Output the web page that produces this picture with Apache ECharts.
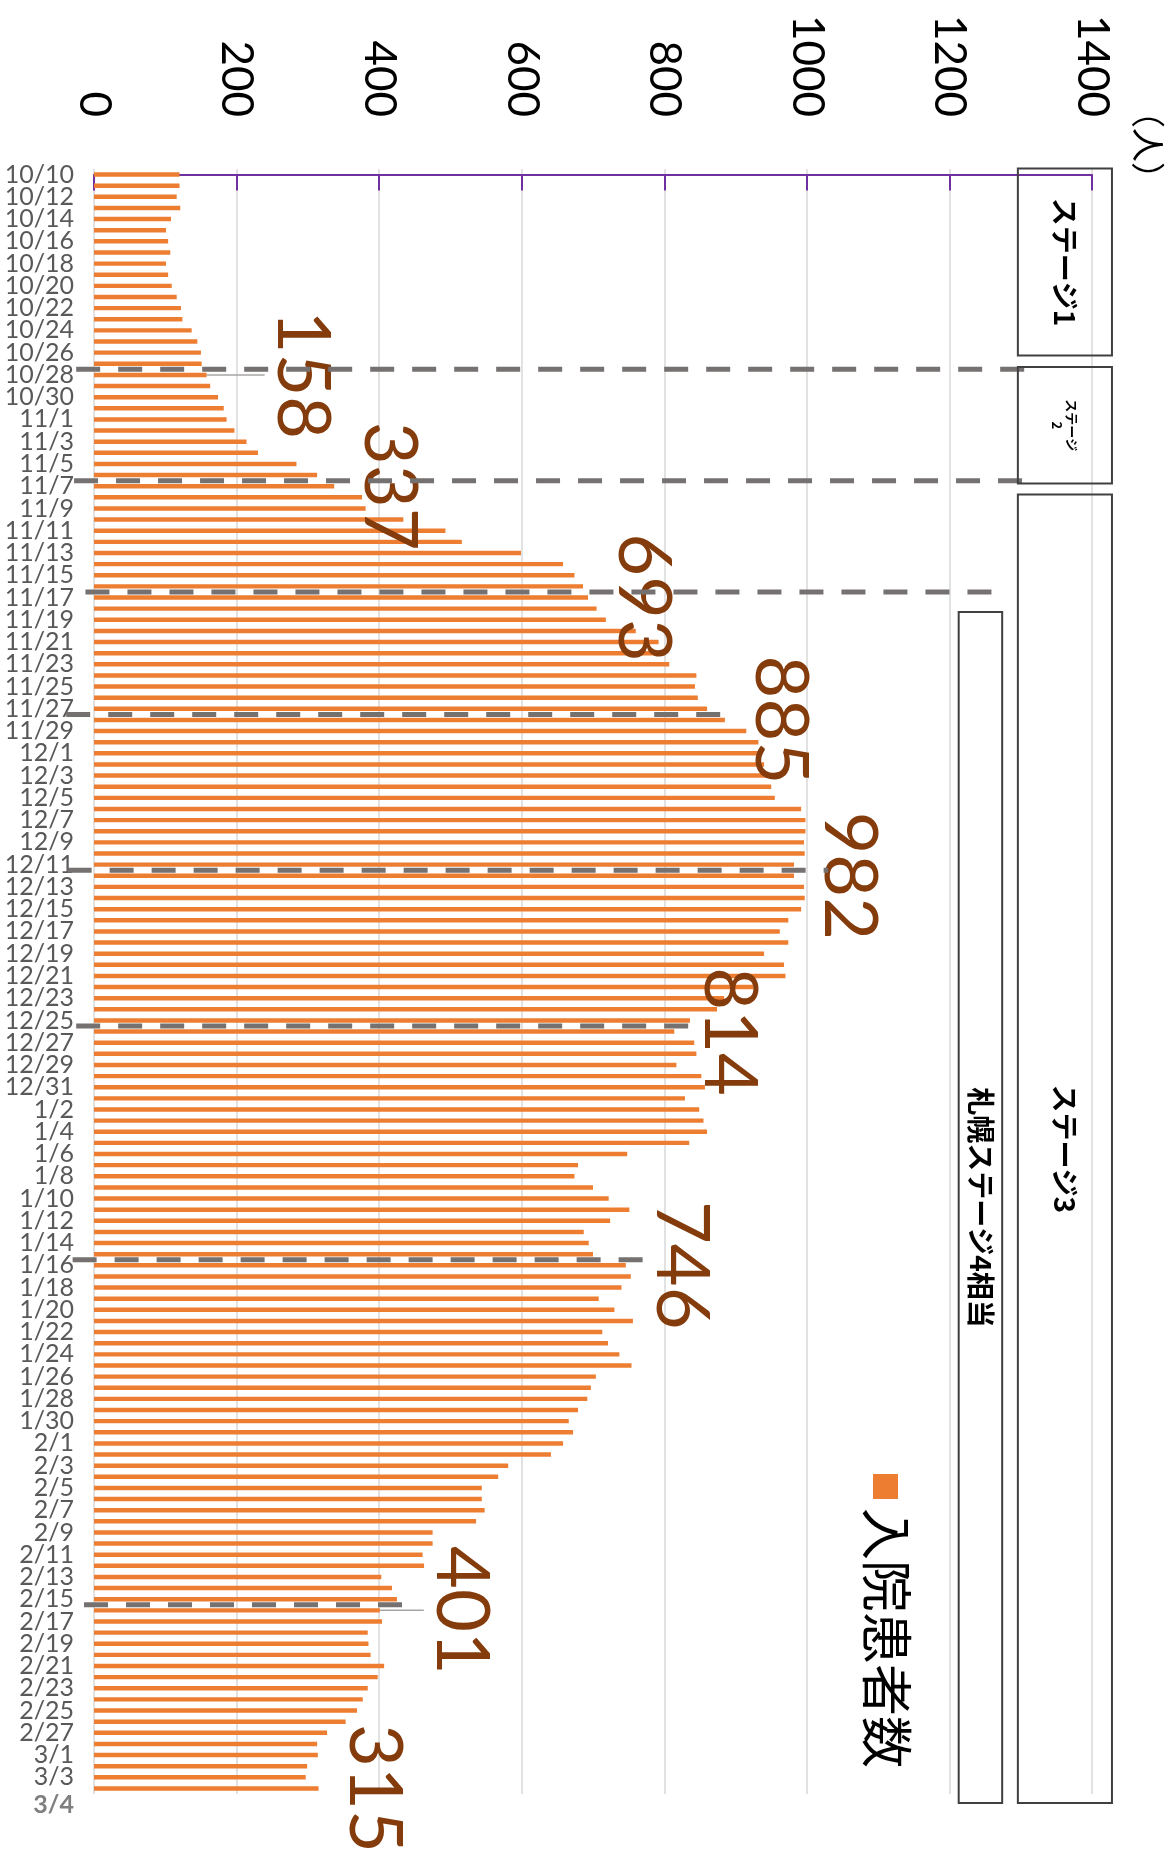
<!DOCTYPE html>
<html><head><meta charset="utf-8">
<script src="https://cdn.jsdelivr.net/npm/echarts@6/dist/echarts.min.js"></script>
<style>html,body{margin:0;padding:0;background:#fff}#c{width:1167px;height:1856px}</style>
</head><body><div id="c"></div><script>
// ---- data ----
const dates = [
'10/10','10/11','10/12','10/13','10/14','10/15','10/16','10/17','10/18','10/19','10/20','10/21','10/22','10/23','10/24','10/25','10/26','10/27','10/28','10/29','10/30','10/31',
'11/1','11/2','11/3','11/4','11/5','11/6','11/7','11/8','11/9','11/10','11/11','11/12','11/13','11/14','11/15','11/16','11/17','11/18','11/19','11/20','11/21','11/22','11/23','11/24','11/25','11/26','11/27','11/28','11/29','11/30',
'12/1','12/2','12/3','12/4','12/5','12/6','12/7','12/8','12/9','12/10','12/11','12/12','12/13','12/14','12/15','12/16','12/17','12/18','12/19','12/20','12/21','12/22','12/23','12/24','12/25','12/26','12/27','12/28','12/29','12/30','12/31',
'1/1','1/2','1/3','1/4','1/5','1/6','1/7','1/8','1/9','1/10','1/11','1/12','1/13','1/14','1/15','1/16','1/17','1/18','1/19','1/20','1/21','1/22','1/23','1/24','1/25','1/26','1/27','1/28','1/29','1/30','1/31',
'2/1','2/2','2/3','2/4','2/5','2/6','2/7','2/8','2/9','2/10','2/11','2/12','2/13','2/14','2/15','2/16','2/17','2/18','2/19','2/20','2/21','2/22','2/23','2/24','2/25','2/26','2/27','2/28',
'3/1','3/2','3/3','3/4'];
const patients = [
120,120,116,121,108,101,104,107,101,104,109,116,122,124,137,145,150,151,158,163,174,182,
186,197,214,230,284,313,337,376,381,434,493,516,599,658,674,686,693,705,718,760,792,798,807,845,843,847,860,885,915,932,
935,940,945,950,955,992,998,998,996,997,982,982,996,997,992,974,962,974,940,968,970,925,884,874,836,814,842,845,817,852,857,
829,849,855,860,835,748,679,674,700,722,751,724,687,694,700,746,753,740,708,730,756,713,721,737,754,704,697,692,679,666,672,
658,641,581,567,544,544,548,536,475,475,461,463,403,418,425,401,404,384,385,388,407,398,384,377,369,353,327,313,
314,299,297,315];
const valueTicks = [0, 200, 400, 600, 800, 1000, 1200, 1400];
const labeledDates = ['10/28','11/7','11/17','11/28','12/12','12/26','1/16','2/16','3/4'];
const leaderDates = ['10/28','2/16'];
const dividerDates = ['10/28','11/7','11/17','11/28','12/12','12/26','1/16','2/16'];
const seriesName = '入院患者数';
const unitName = '（人）';
const stageNames = ['ステージ1','ステージ\n2','ステージ3','札幌ステージ4相当'];

// ---- layout (annotation geometry, in axis units) ----
const dividerSpan = [[-25,1320],[-28,1320],[-12,1275],[-39,893],[-37,1030],[-25,848],[-30,790],[-14,445]];
const stageBoxGeom = [
  {y0:-0.55, y1:16.25, x0:1296, x1:1428, fs:28},
  {y0:17.3, y1:27.75, x0:1296, x1:1428, fs:13},
  {y0:28.75, y1:146.3, x0:1296, x1:1428, fs:28},
  {y0:39.3, y1:146.3, x0:1213, x1:1274, fs:28}
];

const lastIdx = dates.length - 1;
const barData = patients.map((v, i) => {
  const d = dates[i];
  if (labeledDates.indexOf(d) < 0) return v;
  const far = leaderDates.indexOf(d) >= 0;
  return { value: v, label: { show: true, distance: d === '2/16' ? 44 : (far ? 58 : 18) }, labelLine: { show: far } };
});
const dividerData = dividerDates.map((d, k) => [dates.indexOf(d) - 0.5, dividerSpan[k][0], dividerSpan[k][1]]);
const boxData = stageBoxGeom.map(b => [b.y0, b.y1, b.x0, b.x1]);

const chart = echarts.init(document.getElementById('c'));
chart.setOption({
  animation: false,
  grid: { left: 94, top: 169, width: 998, height: 1625, containLabel: false, outerBoundsMode: 'none' },
  legend: {
    data: [seriesName], left: 873, top: 1474, itemWidth: 25, itemHeight: 25, icon: 'rect',
    formatter: () => '', selectedMode: false, itemGap: 0, padding: 0
  },
  xAxis: {
    type: 'value', position: 'top', min: valueTicks[0], max: valueTicks[valueTicks.length - 1], interval: 200,
    axisLine: { show: true, lineStyle: { color: '#7030A0', width: 2 } },
    axisTick: { show: true, inside: true, length: 16, lineStyle: { color: '#7030A0', width: 2 } },
    axisLabel: { rotate: -90, margin: 52, fontSize: 44, color: '#000', fontFamily: 'Lato',
                 formatter: (v) => String(v) },
    splitLine: { show: true, lineStyle: { color: '#d9d9d9', width: 1.5 } }
  },
  yAxis: [
    { type: 'category', data: dates, inverse: true,
      axisLine: { show: false }, axisTick: { show: false },
      axisLabel: {
        interval: 0, hideOverlap: false,
        margin: 20, fontSize: 25, color: '#595959', fontFamily: 'Lato',
        formatter: (v, i) => i === lastIdx ? '{last|' + v + '}' : (i % 2 === 0 ? v : ''),
        rich: { last: { fontWeight: 'bold', color: '#7f7f7f', fontSize: 25, fontFamily: 'Lato', padding: [34, 0, 0, 0] } }
      } },
    { type: 'value', min: -0.5, max: dates.length - 0.5, inverse: true, show: false }
  ],
  series: [
    { name: seriesName, type: 'bar', data: barData, barWidth: '40%', z: 2,
      itemStyle: { color: '#ED7D31' },
      label: { show: false, position: 'right', rotate: -90, align: 'center', verticalAlign: 'bottom',
               fontSize: 74, color: '#843C0C', fontFamily: 'Lato' },
      labelLine: { show: false, lineStyle: { color: '#a6a6a6', width: 1.5 } } },
    { type: 'custom', yAxisIndex: 1, data: dividerData, encode: { x: [1, 2], y: 0 }, z: 3, clip: false,
      silent: true,
      renderItem: (params, api) => {
        const y = api.value(0);
        const a = api.coord([api.value(1), y]);
        const b = api.coord([api.value(2), y]);
        return { type: 'line', shape: { x1: a[0], y1: a[1], x2: b[0], y2: b[1] },
                 style: { stroke: '#767171', lineWidth: 5, lineDash: [24, 18] } };
      } },
    { type: 'custom', yAxisIndex: 1, data: boxData, encode: { x: [2, 3], y: [0, 1] }, z: 4, clip: false,
      silent: true,
      renderItem: (params, api) => {
        const p0 = api.coord([api.value(2), api.value(0)]);
        const p1 = api.coord([api.value(3), api.value(1)]);
        const g = stageBoxGeom[params.dataIndex];
        const cx = (p0[0] + p1[0]) / 2, cy = (p0[1] + p1[1]) / 2;
        return { type: 'group', children: [
          { type: 'rect', shape: { x: p0[0], y: p0[1], width: p1[0] - p0[0], height: p1[1] - p0[1] },
            style: { fill: 'rgba(255,255,255,0)', stroke: '#404040', lineWidth: 2 } },
          { type: 'text', x: cx, y: cy, rotation: -Math.PI / 2,
            style: { text: stageNames[params.dataIndex], fontSize: g.fs, fontWeight: 'bold', lineHeight: g.fs + 2,
                     fontFamily: 'Noto Sans CJK JP', fill: '#000', align: 'center', verticalAlign: 'middle' } }
        ] };
      } }
  ],
  graphic: [
    { type: 'text', x: 887, y: 1508, rotation: -Math.PI / 2,
      style: { text: seriesName, fontSize: 52, fill: '#000', fontFamily: 'Noto Sans CJK JP', align: 'left', verticalAlign: 'middle' } },
    { type: 'text', x: 1148, y: 94, rotation: -Math.PI / 2,
      style: { text: unitName, fontSize: 34, fill: '#000', fontFamily: 'Noto Sans CJK JP', align: 'left', verticalAlign: 'middle' } }
  ]
});
</script></body></html>
